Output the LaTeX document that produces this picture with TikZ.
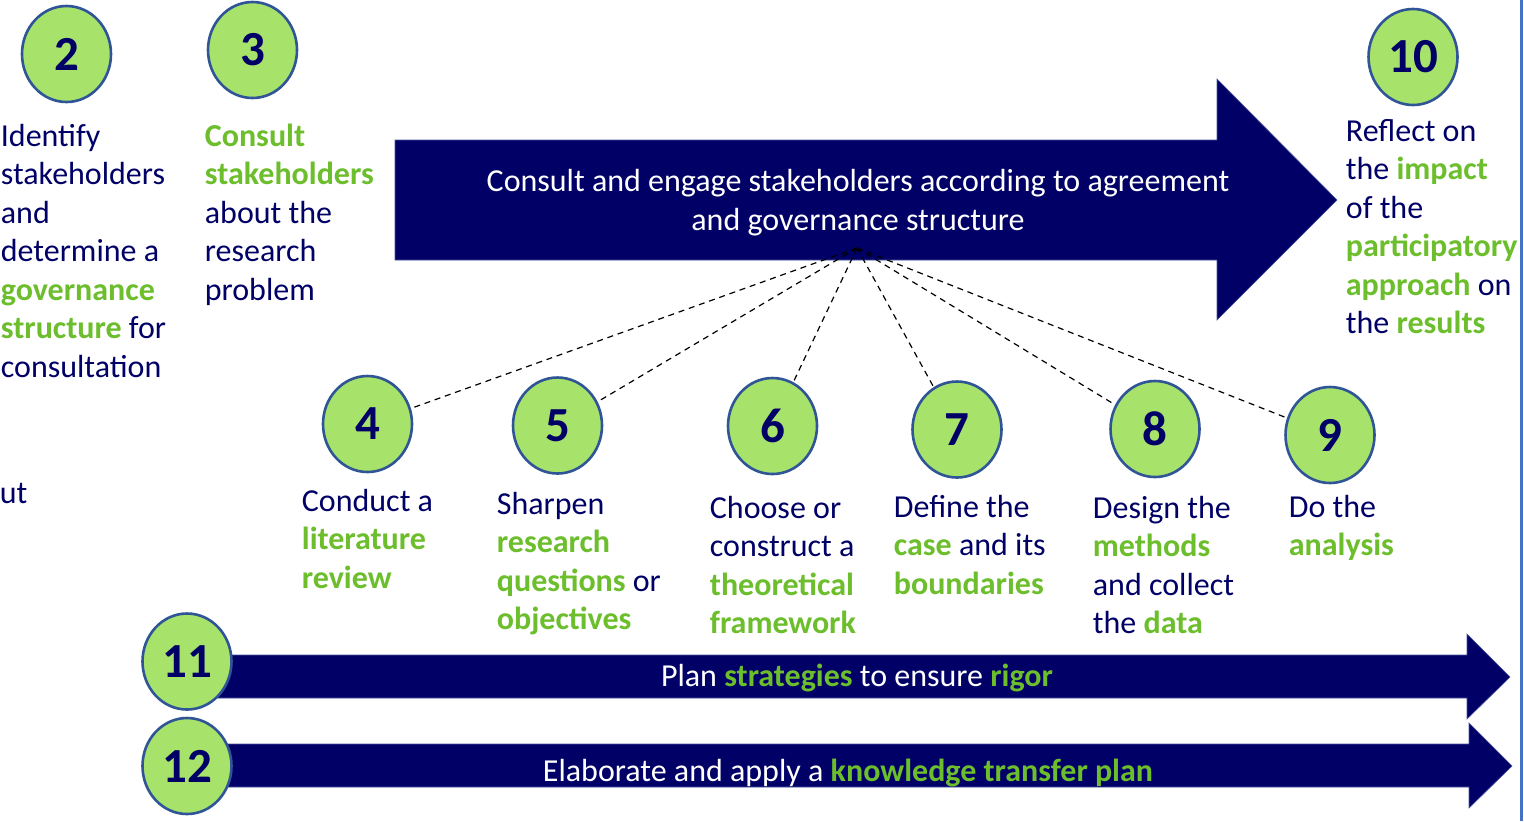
\documentclass[tikz,border=0pt]{standalone}
\usepackage{fontspec}
\setmainfont{Carlito}
\usetikzlibrary{shapes.geometric}
\definecolor{navy}{HTML}{000066}
\definecolor{grn}{HTML}{6CBE2C}
\definecolor{cfill}{HTML}{A7E26B}
\definecolor{cedge}{HTML}{2F5597}
\definecolor{vline}{HTML}{4472C4}
\definecolor{aedge}{HTML}{4A55A0}
\newcommand{\grw}[1]{\textbf{\textcolor{grn}{#1}}}
\begin{document}
\begin{tikzpicture}[x=0.5pt,y=-0.5pt,
  num/.style={ellipse, draw=cedge, line width=1.3pt, fill=cfill, minimum width=44.5pt, minimum height=48pt, inner sep=0pt, font=\fontsize{24.5}{28}\selectfont\bfseries, text=navy},
  txt/.style={anchor=base west, align=left, inner sep=0pt, font=\fontsize{16}{19.25}\selectfont, text=navy},
  wtxt/.style={align=center, inner sep=0pt, font=\fontsize{16}{19.25}\selectfont, text=white},
  arrowshape/.style={fill=navy, draw=aedge, line width=0.3pt},
  link/.style={draw=black, line width=0.6pt, dash pattern=on 3pt off 2.4pt}]
\useasboundingbox (0,0) rectangle (1524,821);
\fill[white] (0,0) rectangle (1524,821);

% big arrow
\path[arrowshape] (395,140) -- (1217,140) -- (1217,79) -- (1337,200) -- (1217,320) -- (1217,260) -- (395,260) -- cycle;
\node[wtxt] (cons) at (858,202.5) {Consult and engage stakeholders according to agreement\\and governance structure};
\coordinate (hub) at (857,248);

% bars
\path[arrowshape] (187,655) -- (1467,655) -- (1467,634) -- (1510,677) -- (1467,719) -- (1467,698) -- (187,698) -- cycle;
\path[arrowshape] (187,744) -- (1469,744) -- (1469,723) -- (1512,766) -- (1469,808) -- (1469,787) -- (187,787) -- cycle;
\node[wtxt] (rig) at (857,678) {Plan \grw{strategies} to ensure \grw{rigor}};
\node[wtxt] (ktp) at (848,772.5) {Elaborate and apply a \grw{knowledge transfer plan}};

% circles
\node[num] (c2) at (66.5,54) {2};
\node[num] (c3) at (252.5,50) {3};
\node[num] (c4) at (367.5,424) {4};
\node[num] (c5) at (557.5,425.5) {5};
\node[num] (c6) at (772.5,426) {6};
\node[num] (c7) at (957,429.5) {7};
\node[num] (c8) at (1155,429) {8};
\node[num] (c9) at (1330,435) {9};
\node[num] (c10) at (1413,57) {10};
\node[num] (c11) at (187,661.5) {11};
\node[num] (c12) at (187,766) {12};

% dashed links
\foreach \c in {c4,c5,c6,c7,c8,c9} \draw[link] (hub) -- (\c);

% texts (anchor = baseline of the last line)
\node[txt] (t2) at (0.5,377) {Identify\\stakeholders\\and\\determine a\\\grw{governance}\\\grw{structure} for\\consultation};
\node[txt] (t3) at (204.5,300) {\grw{Consult}\\\grw{stakeholders}\\about the\\research\\problem};
\node[txt] (t10) at (1345.5,333.5) {Reflect on\\the \grw{impact}\\of the\\\grw{participatory}\\\grw{approach} on\\the \grw{results}};
\node[txt] (t4) at (301.5,588) {Conduct a\\\grw{literature}\\\grw{review}};
\node[txt] (t5) at (496.5,629.5) {Sharpen\\\grw{research}\\\grw{questions} or\\\grw{objectives}};
\node[txt] (t6) at (709.5,633.5) {Choose or\\construct a\\\grw{theoretical}\\\grw{framework}};
\node[txt] (t7) at (893.5,594) {Define the\\\grw{case} and its\\\grw{boundaries}};
\node[txt] (t8) at (1092.5,633.5) {Design the\\\grw{methods}\\and collect\\the \grw{data}};
\node[txt] (t9) at (1288.5,555.5) {Do the\\\grw{analysis}};
\node[txt] (ut) at (-0.5,503) {ut};

% right edge line
\draw[vline, line width=1.5pt] (1521,0) -- (1521,821);
\end{tikzpicture}
\end{document}
